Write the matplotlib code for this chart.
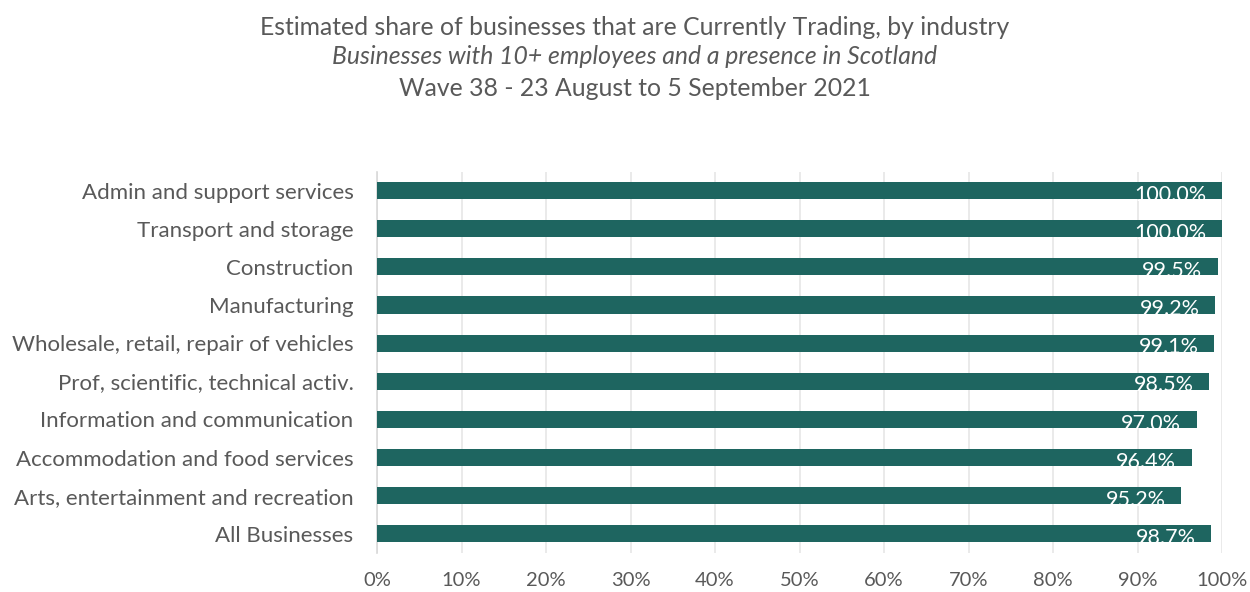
import matplotlib
matplotlib.use("Agg")
import matplotlib.pyplot as plt
from matplotlib.ticker import PercentFormatter

categories = [
    "Admin and support services",
    "Transport and storage",
    "Construction",
    "Manufacturing",
    "Wholesale, retail, repair of vehicles",
    "Prof, scientific, technical activ.",
    "Information and communication",
    "Accommodation and food services",
    "Arts, entertainment and recreation",
    "All Businesses",
]
values = [100.0, 100.0, 99.5, 99.2, 99.1, 98.5, 97.0, 96.4, 95.2, 98.7]
xticks = [0, 10, 20, 30, 40, 50, 60, 70, 80, 90, 100]

title1 = "Estimated share of businesses that are Currently Trading, by industry"
title2 = "Businesses with 10+ employees and a presence in Scotland"
title3 = "Wave 38 - 23 August to 5 September 2021"

plt.rcParams['font.family'] = ['Lato', 'DejaVu Sans']
txt = "#595959"
bar_color = "#1E6560"

fig = plt.figure(figsize=(12.5, 5.92), dpi=100)
ax = fig.add_axes([0.3016, 0.0659, 0.676, 0.6444])

ypos = list(range(len(categories)))[::-1]
ax.barh(ypos, values, height=0.45, color=bar_color, zorder=3)
for y, v in zip(ypos, values):
    ax.annotate(f"{v:.1f}%", xy=(v, y), xytext=(-11, -3), textcoords="offset points",
                ha="right", va="center", color="white", fontsize=15.5, zorder=4)

ax.set_xlim(0, 100)
ax.set_ylim(-0.5, len(categories) - 0.5)
ax.set_yticks(ypos)
ax.set_yticklabels(categories, fontsize=16, color=txt)
ax.set_xticks(xticks)
ax.xaxis.set_major_formatter(PercentFormatter(decimals=0))
ax.tick_params(axis='x', labelsize=14.5, colors=txt, length=0, pad=14)
ax.tick_params(axis='y', length=0, pad=17)
ax.grid(axis='x', color="#E6E6E6", linewidth=1.2, zorder=0)
for s in ['top', 'right', 'bottom']:
    ax.spines[s].set_visible(False)
ax.spines['left'].set_color("#D9D9D9")
ax.spines['left'].set_linewidth(1.2)

fig.text(0.5078, 0.954, title1, ha="center", va="center", fontsize=17.8, color=txt)
fig.text(0.5078, 0.904, title2, ha="center", va="center", fontsize=17.8, color=txt, style="italic")
fig.text(0.5078, 0.851, title3, ha="center", va="center", fontsize=17.8, color=txt)

fig.savefig("out.png", dpi=100)
